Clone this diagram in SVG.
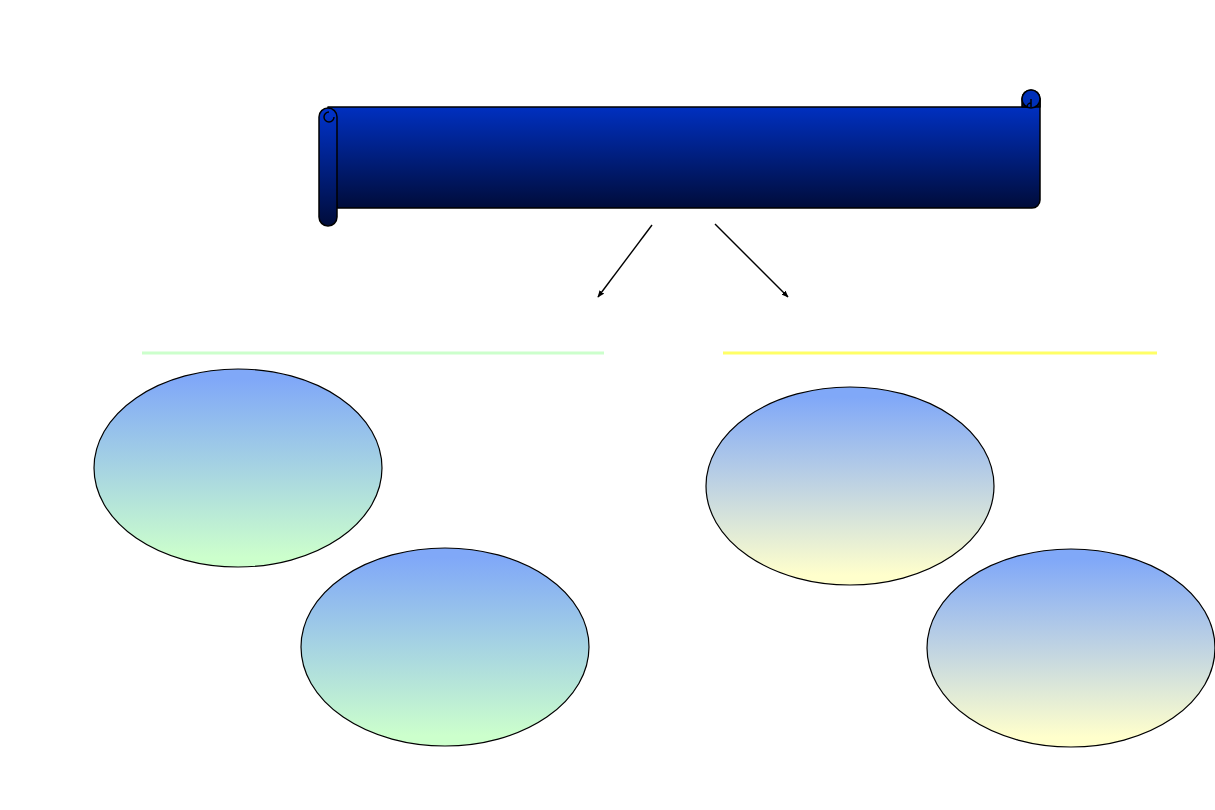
<svg xmlns="http://www.w3.org/2000/svg" width="1215" height="810" viewBox="0 0 1215 810">
<defs>
<linearGradient id="gScroll" x1="0" y1="0" x2="0" y2="1">
<stop offset="0" stop-color="#0033cc"/>
<stop offset="1" stop-color="#000c3a"/>
</linearGradient>
<linearGradient id="gGreen" x1="0" y1="0" x2="0" y2="1">
<stop offset="0.05" stop-color="#80a8f8"/>
<stop offset="0.95" stop-color="#ccffcc"/>
</linearGradient>
<linearGradient id="gYellow" x1="0" y1="0" x2="0" y2="1">
<stop offset="0.05" stop-color="#80a8f8"/>
<stop offset="0.95" stop-color="#ffffcc"/>
</linearGradient>
<marker id="arr" viewBox="0 0 10 10" refX="9" refY="5" markerWidth="7" markerHeight="7" orient="auto" markerUnits="userSpaceOnUse">
<path d="M0,1 L10,5 L0,9 Z" fill="#000"/>
</marker>
</defs>
<style>
.sc{stroke:#000;stroke-width:1.5;stroke-linejoin:round}
.el{stroke:#000;stroke-width:1.2}
.conn{stroke:#000;stroke-width:1.4;fill:none}
</style>
<rect width="1215" height="810" fill="#fff"/>
<g id="scroll">
<path class="sc" fill="url(#gScroll)" d="M328,107 L1031,107 L1031,99 A9,9 0 0 1 1040,99 L1040,200 A8,8 0 0 1 1032,208 L337,208 Z"/>
<path class="sc" fill="url(#gScroll)" d="M1022,107 L1022,99 A9,9 0 0 1 1040,99 L1040,107 Z"/>
<circle class="sc" cx="1031" cy="99" r="9" fill="#0030b8"/>
<path class="sc" fill="none" d="M1031,99 L1031,107 M1031,103 A4,4 0 0 0 1027,107"/>
<path class="sc" fill="url(#gScroll)" d="M319,117 A9,9 0 0 1 337,117 L337,217 A9,9 0 0 1 319,217 Z"/>
<path class="sc" fill="none" d="M334,117 A5,5 0 1 1 329,112"/>
</g>
<g id="connectors">
<line class="conn" x1="652" y1="225" x2="598" y2="297" marker-end="url(#arr)"/>
<line class="conn" x1="715" y1="224" x2="788" y2="297" marker-end="url(#arr)"/>
</g>
<g id="line-left"><line x1="142" y1="353" x2="604" y2="353" stroke="#ccffcc" stroke-width="3"/></g>
<g id="line-right"><line x1="723" y1="353" x2="1157" y2="353" stroke="#ffff66" stroke-width="3"/></g>
<g id="ellipse1"><ellipse class="el" cx="238" cy="468" rx="144" ry="99" fill="url(#gGreen)"/></g>
<g id="ellipse2"><ellipse class="el" cx="445" cy="647" rx="144" ry="99" fill="url(#gGreen)"/></g>
<g id="ellipse3"><ellipse class="el" cx="850" cy="486" rx="144" ry="99" fill="url(#gYellow)"/></g>
<g id="ellipse4"><ellipse class="el" cx="1071" cy="648" rx="144" ry="99" fill="url(#gYellow)"/></g>
</svg>
